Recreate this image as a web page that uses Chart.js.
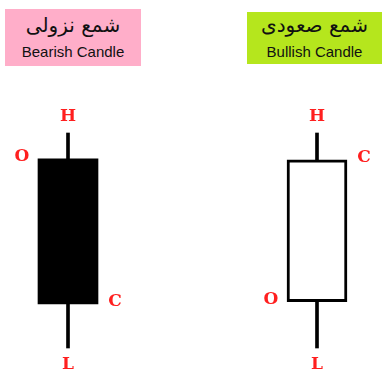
<!DOCTYPE html>
<html>
<head>
<meta charset="utf-8">
<script src="https://cdn.jsdelivr.net/npm/chart.js@4"></script>
<style>
  body { margin: 0; background: #fff; }
  #wrap { position: relative; width: 382px; height: 374px; overflow: hidden; }
  #chartBox { position: absolute; left: 0; top: 0; width: 382px; height: 374px; }
  .head { position: absolute; text-align: center; color: #111; }
  .head .ar { font-family: "DejaVu Sans", sans-serif; font-size: 20px; direction: rtl; line-height: 24px; margin-top: 4px; }
  .head .en { font-family: "Liberation Sans", Arial, sans-serif; font-size: 15px; line-height: 18px; margin-top: 6px; }
</style>
</head>
<body>
<div id="wrap">
  <div id="chartBox"><canvas id="candleChart"></canvas></div>
  <div class="head" id="head0" style="left:5px; top:9px; width:136px; height:57px; background:#ffaec9;"></div>
  <div class="head" id="head1" style="left:247px; top:12px; width:135px; height:52px; background:#b5e61d;"></div>
</div>
<script>
// candle data (price units, H = 100, L = 0)
const candles = ["Bearish Candle", "Bullish Candle"];
const arabicNames = ["شمع نزولی", "شمع صعودی"];
const openPrices = [88, 21.5];
const highPrices = [100, 100];
const lowPrices = [0, 0];
const closePrices = [20.5, 87.5];

candles.forEach((name, i) => {
    let box = document.getElementById("head" + i);
    box.innerHTML = `<div class="ar">${arabicNames[i]}</div><div class="en">${name}</div>`;
});
document.getElementById("head1").querySelector(".ar").style.marginTop = "1px";

const ohlcLabels = {
    id: 'ohlcLabels',
    afterDatasetsDraw(chart) {
        let ctx = chart.ctx;
        let x = chart.scales.x, y = chart.scales.y;
        let bodies = chart.getDatasetMeta(0).data;
        ctx.save();
        ctx.fillStyle = '#ff1f1f';
        ctx.font = 'bold 17px "DejaVu Serif", serif';
        ctx.textAlign = 'center';
        ctx.textBaseline = 'middle';
        candles.forEach((c, i) => {
            let cx = x.getPixelForValue(i);
            let half = bodies[i].width / 2;
            ctx.fillText('H', cx, y.getPixelForValue(highPrices[i]) - 16);
            ctx.fillText('L', cx, y.getPixelForValue(lowPrices[i]) + 17);
            ctx.fillText('O', cx - half - 16, y.getPixelForValue(openPrices[i]) - 2);
            ctx.fillText('C', cx + half + 17, y.getPixelForValue(closePrices[i]) - 2);
        });
        ctx.restore();
    }
};

new Chart(document.getElementById("candleChart").getContext("2d"), {
    type: 'bar',
    data: {
        labels: candles,
        datasets: [
            {
                label: 'Body',
                data: openPrices.map((o, i) => [o, closePrices[i]]),
                backgroundColor: ['#000000', '#ffffff'],
                borderColor: '#000000',
                borderWidth: [0, 3],
                borderSkipped: false,
                barThickness: [60, 58],
                grouped: false,
                clip: false
            },
            {
                label: 'Wick',
                data: lowPrices.map((l, i) => [l, highPrices[i]]),
                backgroundColor: '#000000',
                borderWidth: 0,
                barThickness: 3,
                grouped: false,
                clip: false
            }
        ]
    },
    options: {
        responsive: true,
        maintainAspectRatio: false,
        animation: false,
        layout: { padding: { left: 68, right: 65, top: 133, bottom: 26 } },
        plugins: { legend: { display: false }, tooltip: { enabled: false } },
        scales: {
            x: { display: false, offset: false },
            y: { display: false, min: 0, max: 100 }
        }
    },
    plugins: [ohlcLabels]
});
</script>
</body>
</html>
